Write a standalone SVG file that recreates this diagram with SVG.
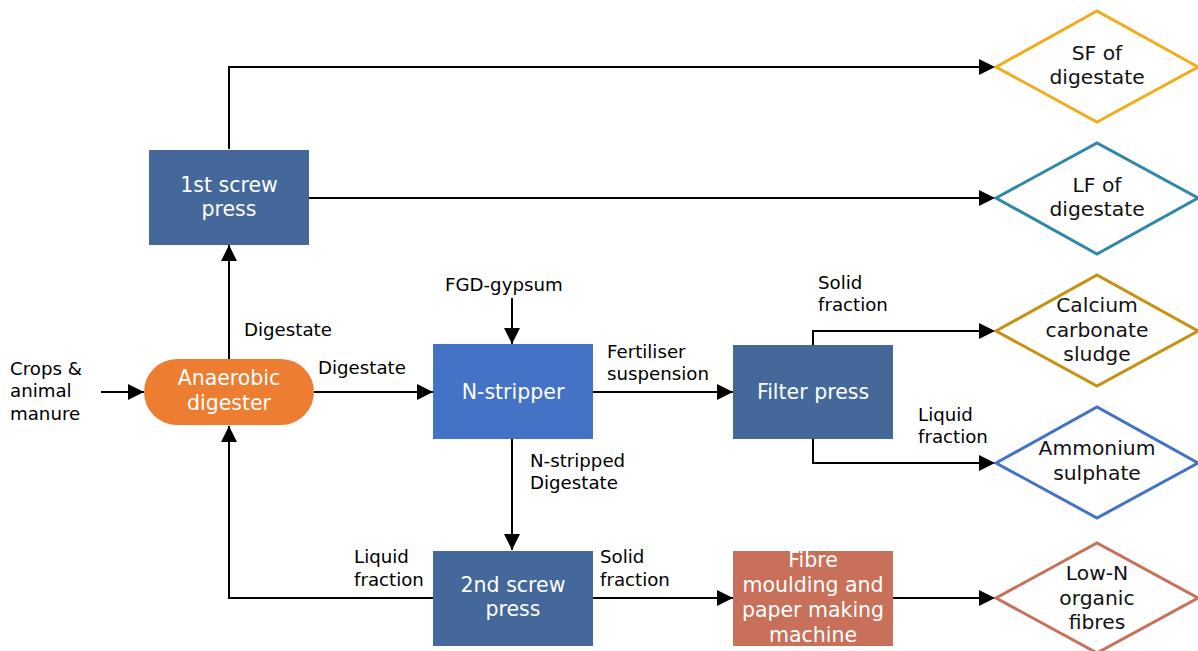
<svg xmlns="http://www.w3.org/2000/svg" width="1198" height="651" viewBox="0 0 1198 651">
<style>
text{font-family:"DejaVu Sans","Verdana",sans-serif;}
.lbl{font-size:18.2px;fill:#000;}
.nt{font-size:20.5px;fill:#fff;text-anchor:middle;}
.dt{font-size:20.3px;fill:#111;text-anchor:middle;}
.box{fill:#44689A;}
.con{fill:none;stroke:#000;stroke-width:2;}
.dia{fill:#fff;stroke-width:3;}
</style>
<defs>
<marker id="ah" markerUnits="userSpaceOnUse" markerWidth="16" markerHeight="16" refX="16" refY="8" orient="auto">
<path d="M0,0 L16,8 L0,16 Z" fill="#000"/>
</marker>
</defs>
<rect width="1198" height="651" fill="#fff"/>

<g id="connectors">
<path class="con" d="M229,149 V67 H995" marker-end="url(#ah)"/>
<path class="con" d="M309,198 H995" marker-end="url(#ah)"/>
<path class="con" d="M229,359 V245" marker-end="url(#ah)"/>
<path class="con" d="M101,392 H144" marker-end="url(#ah)"/>
<path class="con" d="M314,392 H433" marker-end="url(#ah)"/>
<path class="con" d="M512,298 V344" marker-end="url(#ah)"/>
<path class="con" d="M593,392 H733" marker-end="url(#ah)"/>
<path class="con" d="M813,345 V331 H995" marker-end="url(#ah)"/>
<path class="con" d="M813,439 V463 H995" marker-end="url(#ah)"/>
<path class="con" d="M512,439 V550" marker-end="url(#ah)"/>
<path class="con" d="M433,598 H229 V426" marker-end="url(#ah)"/>
<path class="con" d="M593,598 H733" marker-end="url(#ah)"/>
<path class="con" d="M893,598 H995" marker-end="url(#ah)"/>
</g>

<g id="labels">
<text class="lbl" x="244" y="336">Digestate</text>
<text class="lbl" x="10" y="375">Crops &amp;</text>
<text class="lbl" x="10" y="397">animal</text>
<text class="lbl" x="10" y="420">manure</text>
<text class="lbl" x="318" y="374">Digestate</text>
<text class="lbl" x="445" y="291">FGD-gypsum</text>
<text class="lbl" x="607" y="358">Fertiliser</text>
<text class="lbl" x="607" y="380">suspension</text>
<text class="lbl" x="818" y="289">Solid</text>
<text class="lbl" x="818" y="311">fraction</text>
<text class="lbl" x="918" y="421">Liquid</text>
<text class="lbl" x="918" y="443">fraction</text>
<text class="lbl" x="530" y="467">N-stripped</text>
<text class="lbl" x="530" y="489">Digestate</text>
<text class="lbl" x="354" y="563">Liquid</text>
<text class="lbl" x="354" y="586">fraction</text>
<text class="lbl" x="600" y="563">Solid</text>
<text class="lbl" x="600" y="586">fraction</text>
</g>

<g id="screw1">
<rect class="box" x="149" y="150" width="160" height="95"/>
<text class="nt" x="229" y="192">1st screw</text>
<text class="nt" x="229" y="216">press</text>
</g>

<g id="digester">
<rect x="144" y="359" width="170" height="66" rx="33" fill="#ED7D31"/>
<text class="nt" x="229" y="385">Anaerobic</text>
<text class="nt" x="229" y="410">digester</text>
</g>

<g id="nstripper">
<rect x="433" y="344" width="160" height="95" fill="#4472C4"/>
<text class="nt" x="513" y="399">N-stripper</text>
</g>

<g id="filterpress">
<rect class="box" x="733" y="345" width="160" height="94"/>
<text class="nt" x="813" y="399">Filter press</text>
</g>

<g id="screw2">
<rect class="box" x="433" y="551" width="160" height="95"/>
<text class="nt" x="513" y="592">2nd screw</text>
<text class="nt" x="513" y="616">press</text>
</g>

<g id="fibre">
<rect x="733" y="551" width="160" height="95" fill="#C8705A"/>
<text class="nt" x="813" y="567">Fibre</text>
<text class="nt" x="813" y="592">moulding and</text>
<text class="nt" x="813" y="617">paper making</text>
<text class="nt" x="813" y="642">machine</text>
</g>

<g id="sf">
<polygon class="dia" points="996,67 1097,11 1198,67 1097,122" stroke="#F0AD1E"/>
<text class="dt" x="1097" y="60">SF of</text>
<text class="dt" x="1097" y="84">digestate</text>
</g>

<g id="lf">
<polygon class="dia" points="996,198 1097,143 1198,198 1097,254" stroke="#3187A8"/>
<text class="dt" x="1097" y="192">LF of</text>
<text class="dt" x="1097" y="216">digestate</text>
</g>

<g id="calcium">
<polygon class="dia" points="996,331 1097,275 1198,331 1097,386" stroke="#C8900F"/>
<text class="dt" x="1097" y="312">Calcium</text>
<text class="dt" x="1097" y="337">carbonate</text>
<text class="dt" x="1097" y="361">sludge</text>
</g>

<g id="ammonium">
<polygon class="dia" points="996,463 1097,407 1198,463 1097,518" stroke="#4472C4"/>
<text class="dt" x="1097" y="455">Ammonium</text>
<text class="dt" x="1097" y="480">sulphate</text>
</g>

<g id="lown">
<polygon class="dia" points="996,598 1097,543 1198,598 1097,653" stroke="#C8705A"/>
<text class="dt" x="1097" y="580">Low-N</text>
<text class="dt" x="1097" y="605">organic</text>
<text class="dt" x="1097" y="629">fibres</text>
</g>
</svg>
